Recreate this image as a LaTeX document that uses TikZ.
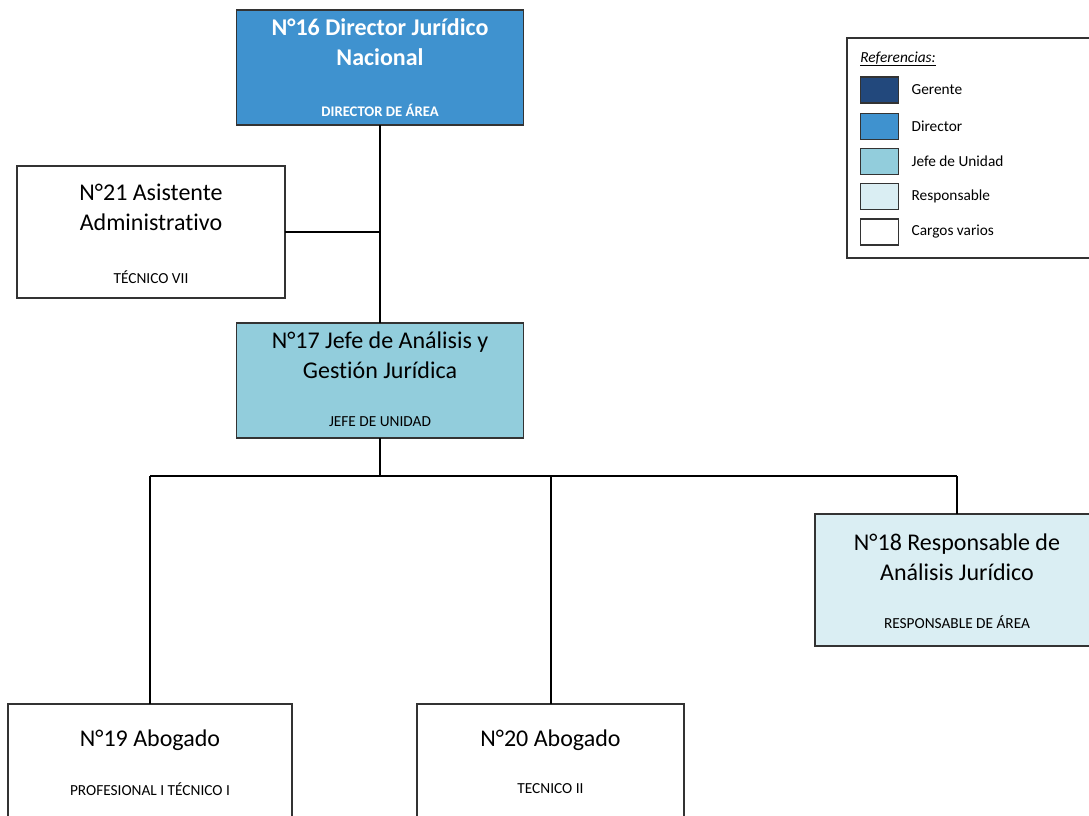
\documentclass[tikz,border=0pt]{standalone}
\usepackage{fontspec}
\setmainfont{Carlito}[Ligatures=NoCommon]
\usetikzlibrary{positioning}
\definecolor{gerente}{HTML}{22487C}
\definecolor{director}{HTML}{3F92CF}
\definecolor{jefe}{HTML}{92CDDC}
\definecolor{responsable}{HTML}{DAEEF3}
\tikzset{
  cargo/.style 2 args={draw=black!80, line width=0.8pt, inner sep=0pt, outer sep=0pt,
    minimum width=#1*0.75pt, minimum height=#2*0.75pt},
  titulo/.style={align=center, font=\fontsize{18}{22.5}\selectfont},
  nivel/.style={font=\fontsize{11.5}{13}\selectfont},
  linea/.style={line width=1.5pt, black},
  muestra/.style={draw=black!80, line width=0.8pt, inner sep=0pt,
    minimum width=29pt, minimum height=19.5pt},
  leyenda/.style={font=\fontsize{11.5}{13}\selectfont, inner sep=0pt}
}
\begin{document}
\begin{tikzpicture}[x=0.75pt, y=-0.75pt]
  \useasboundingbox (0,0) rectangle (1089,815);
  % cajas
  \node[cargo={287}{115}, fill=director] (dir) at (380,67.5) {};
  \node[titulo, text=white, font=\fontsize{18}{22.5}\selectfont\bfseries] (dirt) at (380,42) {N°16 Director Jurídico\\Nacional};
  \node[nivel, text=white, font=\fontsize{11}{12}\selectfont\bfseries] (dirn) at (380,110) {DIRECTOR DE ÁREA};

  \node[cargo={268}{132}, fill=white] (asis) at (151,232) {};
  \node[titulo] (asist) at (151,207) {N°21 Asistente\\Administrativo};
  \node[nivel] (asisn) at (151,277) {TÉCNICO VII};

  \node[cargo={287}{115}, fill=jefe] (jefe) at (380,380.5) {};
  \node[titulo] (jefet) at (380,355) {N°17 Jefe de Análisis y\\Gestión Jurídica};
  \node[nivel] (jefen) at (380,422) {JEFE DE UNIDAD};

  \node[cargo={284}{132}, fill=responsable] (resp) at (957,580) {};
  \node[titulo] (respt) at (957,557) {N°18 Responsable de\\Análisis Jurídico};
  \node[nivel] (respn) at (957,622) {RESPONSABLE DE ÁREA};

  \node[cargo={284}{132}, fill=white] (abo19) at (150,770) {};
  \node[titulo] (abo19t) at (150,740) {N°19 Abogado};
  \node[nivel] (abo19n) at (150,789) {PROFESIONAL I TÉCNICO I};

  \node[cargo={267}{132}, fill=white] (abo20) at (550.5,770) {};
  \node[titulo] (abo20t) at (550.5,740) {N°20 Abogado};
  \node[nivel] (abo20n) at (550.5,789) {TECNICO II};

  % conectores
  \coordinate (bus) at (380,476);
  \draw[linea] (dir.south) -- (jefe.north);
  \draw[linea] (asis.east) -- (asis.east -| dir.south);
  \draw[linea] (jefe.south) -- (bus);
  \draw[linea] (bus -| abo19.north) -- (bus -| resp.north);
  \draw[linea] (bus -| abo19.north) -- (abo19.north);
  \draw[linea] (bus -| abo20.north) -- (abo20.north);
  \draw[linea] (bus -| resp.north) -- (resp.north);

  % referencias
  \draw[black!80, line width=0.8pt, fill=white] (847,38) rectangle (1100,258);
  \node[leyenda, anchor=west] (ref) at (860,59) {\underline{\textit{Referencias:}}};
  \foreach \y/\col/\txt in {90/gerente/Gerente, 126.5/director/Director,
      161.5/jefe/Jefe de Unidad, 196.5/responsable/Responsable, 232/white/Cargos varios}
  {
    \node[muestra, fill=\col] (m\col) at (879.5,\y) {};
    \node[leyenda, right=9pt of m\col] (t\col) {\txt};
  }
\end{tikzpicture}
\end{document}
